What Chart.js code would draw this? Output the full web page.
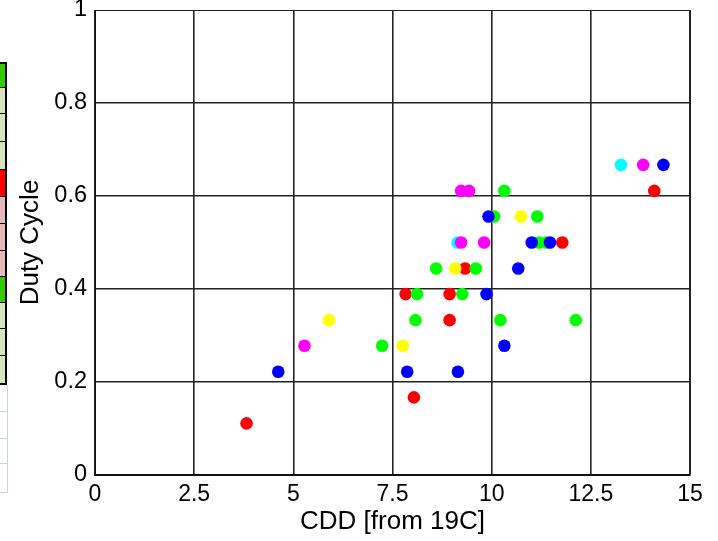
<!DOCTYPE html>
<html>
<head>
<meta charset="utf-8">
<script src="https://cdn.jsdelivr.net/npm/chart.js@4/dist/chart.umd.min.js"></script>
<style>
  html, body { margin: 0; padding: 0; background: #fff; }
  #wrap { position: relative; width: 718px; height: 541px; overflow: hidden; }
  #c { position: absolute; left: 0; top: 0; }
  .cell { position: absolute; left: 0; width: 7px; border-right: 2px solid #000; border-bottom: 1px solid #000; box-sizing: border-box; }
  .sheet { position: absolute; left: 0; width: 8px; border-right: 1px solid #c5d3e8; border-bottom: 1px solid #c5d3e8; box-sizing: border-box; }
</style>
</head>
<body>
<div id="wrap">
  <canvas id="c" width="718" height="541"></canvas>
  <div class="cell" style="top:62px;height:26px;background:#33cc00;border-top:2px solid #000"></div>
  <div class="cell" style="top:88px;height:26px;background:#d8e4bc"></div>
  <div class="cell" style="top:114px;height:28px;background:#d8e4bc"></div>
  <div class="cell" style="top:142px;height:28px;background:#d8e4bc"></div>
  <div class="cell" style="top:170px;height:27px;background:#ff0000"></div>
  <div class="cell" style="top:197px;height:27px;background:#e6b8b7"></div>
  <div class="cell" style="top:224px;height:27px;background:#e6b8b7"></div>
  <div class="cell" style="top:251px;height:26px;background:#e6b8b7"></div>
  <div class="cell" style="top:277px;height:26px;background:#33cc00"></div>
  <div class="cell" style="top:303px;height:26px;background:#d8e4bc"></div>
  <div class="cell" style="top:329px;height:27px;background:#d8e4bc"></div>
  <div class="cell" style="top:356px;height:29px;background:#d8e4bc;border-bottom:2px solid #000"></div>
  <div class="sheet" style="top:385px;height:27px"></div>
  <div class="sheet" style="top:412px;height:27px"></div>
  <div class="sheet" style="top:439px;height:25px"></div>
  <div class="sheet" style="top:464px;height:29px"></div>
</div>
<script>
// ---- data ----
const xTickLabels = ['0', '2.5', '5', '7.5', '10', '12.5', '15'];
const yTickLabels = ['0', '0.2', '0.4', '0.6', '0.8', '1'];

const blueX = [4.62, 7.87, 9.15, 10.32, 9.87, 10.67, 11.01, 11.47, 9.92, 14.33];
const blueY = [0.222, 0.222, 0.222, 0.278, 0.389, 0.444, 0.5, 0.5, 0.556, 0.667];

const greenX = [7.24, 8.08, 10.22, 12.12, 8.12, 9.26, 8.60, 9.60, 11.19, 11.38, 10.06, 11.15, 10.32];
const greenY = [0.278, 0.333, 0.333, 0.333, 0.389, 0.389, 0.444, 0.444, 0.5, 0.5, 0.556, 0.556, 0.611];

const yellowX = [5.90, 7.76, 9.08, 10.74];
const yellowY = [0.333, 0.278, 0.444, 0.556];

const redX = [3.82, 8.04, 8.94, 7.83, 8.94, 9.33, 11.78, 14.10];
const redY = [0.111, 0.167, 0.333, 0.389, 0.389, 0.444, 0.5, 0.611];

const magentaX = [5.28, 9.23, 9.81, 9.23, 9.43, 13.82];
const magentaY = [0.278, 0.5, 0.5, 0.611, 0.611, 0.667];

const cyanX = [9.14, 13.26];
const cyanY = [0.5, 0.667];

const xTitle = 'CDD [from 19C]';
const yTitle = 'Duty Cycle';

// ---- build chart ----
function pts(xs, ys) { return xs.map((x, i) => ({ x: x, y: ys[i] })); }
function ds(xs, ys, color) {
  return { data: pts(xs, ys), backgroundColor: color, borderWidth: 0, pointRadius: 6.3, pointHoverRadius: 6.3 };
}

const FONT = "'Liberation Sans', Arial, Helvetica, sans-serif";

new Chart(document.getElementById('c'), {
  type: 'scatter',
  data: {
    datasets: [
      ds(blueX, blueY, '#0000ff'),
      ds(greenX, greenY, '#00ff00'),
      ds(yellowX, yellowY, '#ffff00'),
      ds(redX, redY, '#ff0000'),
      ds(magentaX, magentaY, '#ff00ff'),
      ds(cyanX, cyanY, '#00ffff')
    ]
  },
  options: {
    responsive: false,
    animation: false,
    events: [],
    layout: { padding: { left: 0, right: 28, top: 10, bottom: 0 } },
    plugins: { legend: { display: false }, tooltip: { enabled: false } },
    scales: {
      x: {
        type: 'linear',
        min: 0, max: 15,
        afterBuildTicks: (s) => { s.ticks = xTickLabels.map(v => ({ value: parseFloat(v) })); },
        afterFit: (s) => { s.height = 66; s.paddingLeft = 0; s.paddingRight = 0; },
        ticks: {
          color: '#000',
          font: { family: FONT, size: 23 },
          padding: 6,
          maxRotation: 0,
          autoSkip: false,
          callback: (v, i) => xTickLabels[i]
        },
        grid: {
          color: '#222',
          lineWidth: (ctx) => (ctx.tick && ctx.tick.value === 15 ? 2 : 1.6),
          drawTicks: false
        },
        border: { color: '#111', width: 2 },
        title: {
          display: true,
          text: xTitle,
          color: '#000',
          font: { family: FONT, size: 26 },
          padding: { top: 0, bottom: 4 }
        }
      },
      y: {
        type: 'linear',
        min: 0, max: 1,
        afterBuildTicks: (s) => { s.ticks = yTickLabels.map(v => ({ value: parseFloat(v) })); },
        afterFit: (s) => { s.width = 95; s.paddingTop = 0; s.paddingBottom = 0; },
        ticks: {
          color: '#000',
          font: { family: FONT, size: 23.5 },
          padding: 8,
          autoSkip: false,
          callback: (v, i) => yTickLabels[i]
        },
        grid: {
          color: '#222',
          lineWidth: (ctx) => (ctx.tick && ctx.tick.value === 1 ? 1 : 1.6),
          drawTicks: false
        },
        border: { color: '#111', width: 1 },
        title: {
          display: true,
          text: yTitle,
          color: '#000',
          font: { family: FONT, size: 26 },
          padding: { top: 15, bottom: 0 }
        }
      }
    }
  }
});
</script>
</body>
</html>
